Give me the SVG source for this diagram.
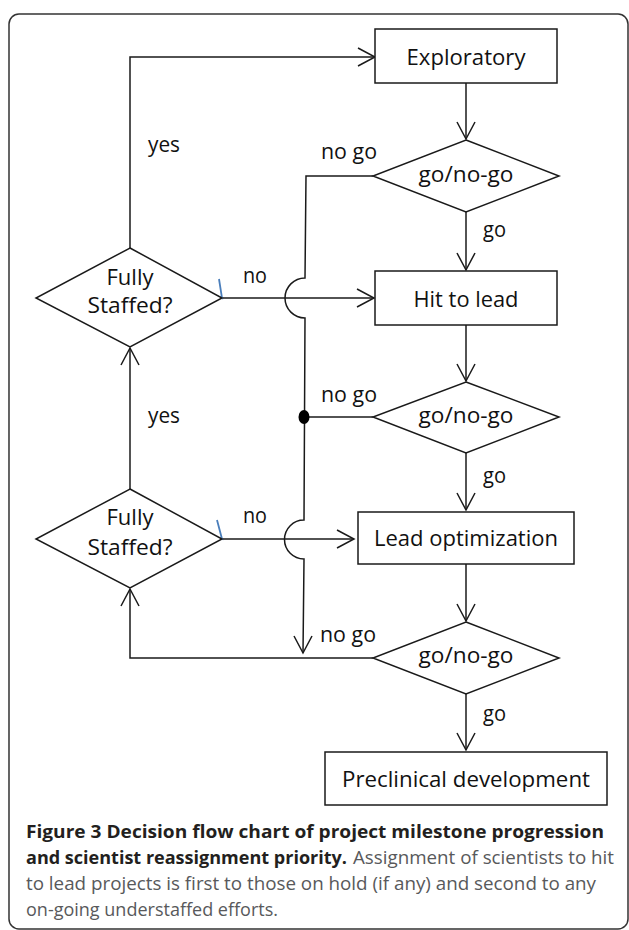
<svg xmlns="http://www.w3.org/2000/svg" width="629" height="930" viewBox="0 0 629 930">
<style>
.shape{fill:#fff;stroke:#1a1a1a;stroke-width:1.5}
.ln{fill:none;stroke:#1a1a1a;stroke-width:1.5}
.ah{fill:none;stroke:#1a1a1a;stroke-width:1.5}
.blue{fill:none;stroke:#4a7ebb;stroke-width:1.8}
.t{font-family:"Open Sans","Liberation Sans",sans-serif;font-size:21px;fill:#111}
.c{text-anchor:middle}
.cb{font-family:"Open Sans","Liberation Sans",sans-serif;font-size:18px;font-weight:bold;fill:#231f20}
.cr{font-family:"Open Sans","Liberation Sans",sans-serif;font-size:18px;fill:#58595b}
</style>
<rect x="9" y="14" width="619" height="915" rx="10" ry="10" fill="none" stroke="#333" stroke-width="1.5"/>
<g id="connectors">
<path class="ln" d="M130,248 V57 H375"/>
<polyline class="ah" points="358,48 375,57 358,66"/>
<path class="ln" d="M466,83 V139"/>
<polyline class="ah" points="457,122 466,139 475,122"/>
<path class="ln" d="M466,212 V270"/>
<polyline class="ah" points="457,253 466,270 475,253"/>
<path class="ln" d="M373,176 H306 L305,278 A20,20 0 0 0 305,318 L304,520 A19.5,19.5 0 0 0 304,559 L303,653"/>
<polyline class="ah" points="294,636 303,653 312,636"/>
<path class="ln" d="M222,298 H374"/>
<polyline class="ah" points="357,289 374,298 357,307"/>
<path class="ln" d="M466,325 V381"/>
<polyline class="ah" points="457,364 466,381 475,364"/>
<path class="ln" d="M373,417 H304"/>
<ellipse cx="304" cy="417" rx="5.5" ry="7" fill="#000"/>
<path class="ln" d="M466,453 V510"/>
<polyline class="ah" points="457,493 466,510 475,493"/>
<path class="ln" d="M130,489 V348"/>
<polyline class="ah" points="121,365 130,348 139,365"/>
<path class="ln" d="M222,539 H354"/>
<polyline class="ah" points="337,530 354,539 337,548"/>
<path class="ln" d="M466,564 V621"/>
<polyline class="ah" points="457,604 466,621 475,604"/>
<path class="ln" d="M373,658 H130 V589"/>
<polyline class="ah" points="121,606 130,589 139,606"/>
<path class="ln" d="M466,694 V750"/>
<polyline class="ah" points="457,733 466,750 475,733"/>
<polyline class="blue" points="219,279 222,298 205,291"/>
<polyline class="blue" points="217,520 222,539 203,533"/>
<text class="t" x="148" y="152" textLength="32" lengthAdjust="spacingAndGlyphs">yes</text>
<text class="t" x="148" y="423" textLength="32" lengthAdjust="spacingAndGlyphs">yes</text>
<text class="t" x="321" y="159" textLength="56" lengthAdjust="spacingAndGlyphs">no go</text>
<text class="t" x="321" y="402" textLength="56" lengthAdjust="spacingAndGlyphs">no go</text>
<text class="t" x="320" y="642" textLength="56" lengthAdjust="spacingAndGlyphs">no go</text>
<text class="t" x="483" y="237" textLength="23" lengthAdjust="spacingAndGlyphs">go</text>
<text class="t" x="483" y="483" textLength="23" lengthAdjust="spacingAndGlyphs">go</text>
<text class="t" x="483" y="721" textLength="23" lengthAdjust="spacingAndGlyphs">go</text>
<text class="t" x="243" y="283" textLength="24" lengthAdjust="spacingAndGlyphs">no</text>
<text class="t" x="243" y="523" textLength="24" lengthAdjust="spacingAndGlyphs">no</text>
</g>
<g id="exploratory">
<rect class="shape" x="375" y="29" width="182" height="54"/>
<text class="t c" x="466" y="65" textLength="119" lengthAdjust="spacingAndGlyphs">Exploratory</text>
</g>
<g id="gate1">
<polygon class="shape" points="466,140 559,176 466,212 373,176"/>
<text class="t c" x="466" y="182" textLength="95" lengthAdjust="spacingAndGlyphs">go/no-go</text>
</g>
<g id="staffed1">
<polygon class="shape" points="130,248 222,298 130,347 36,298"/>
<text class="t c" x="130" y="285" textLength="47" lengthAdjust="spacingAndGlyphs">Fully</text>
<text class="t c" x="130" y="313" textLength="85" lengthAdjust="spacingAndGlyphs">Staffed?</text>
</g>
<g id="hittolead">
<rect class="shape" x="375" y="271" width="182" height="54"/>
<text class="t c" x="466" y="307" textLength="105" lengthAdjust="spacingAndGlyphs">Hit to lead</text>
</g>
<g id="gate2">
<polygon class="shape" points="466,382 559,417 466,453 373,417"/>
<text class="t c" x="466" y="423" textLength="95" lengthAdjust="spacingAndGlyphs">go/no-go</text>
</g>
<g id="staffed2">
<polygon class="shape" points="130,489 222,539 130,588 36,539"/>
<text class="t c" x="130" y="525" textLength="47" lengthAdjust="spacingAndGlyphs">Fully</text>
<text class="t c" x="130" y="555" textLength="85" lengthAdjust="spacingAndGlyphs">Staffed?</text>
</g>
<g id="leadopt">
<rect class="shape" x="358" y="512" width="216" height="52"/>
<text class="t c" x="466" y="546" textLength="184" lengthAdjust="spacingAndGlyphs">Lead optimization</text>
</g>
<g id="gate3">
<polygon class="shape" points="466,622 559,658 466,694 373,658"/>
<text class="t c" x="466" y="663" textLength="95" lengthAdjust="spacingAndGlyphs">go/no-go</text>
</g>
<g id="preclinical">
<rect class="shape" x="325" y="752" width="282" height="53"/>
<text class="t c" x="466" y="787" textLength="248" lengthAdjust="spacingAndGlyphs">Preclinical development</text>
</g>
<g id="caption">
<text class="cb" x="26" y="838" textLength="578" lengthAdjust="spacingAndGlyphs">Figure 3 Decision flow chart of project milestone progression</text>
<text class="cb" x="26" y="864" textLength="321" lengthAdjust="spacingAndGlyphs">and scientist reassignment priority.</text>
<text class="cr" x="353" y="864" textLength="261" lengthAdjust="spacingAndGlyphs">Assignment of scientists to hit</text>
<text class="cr" x="26" y="890" textLength="570" lengthAdjust="spacingAndGlyphs">to lead projects is first to those on hold (if any) and second to any</text>
<text class="cr" x="26" y="916" textLength="252" lengthAdjust="spacingAndGlyphs">on-going understaffed efforts.</text>
</g>
</svg>
